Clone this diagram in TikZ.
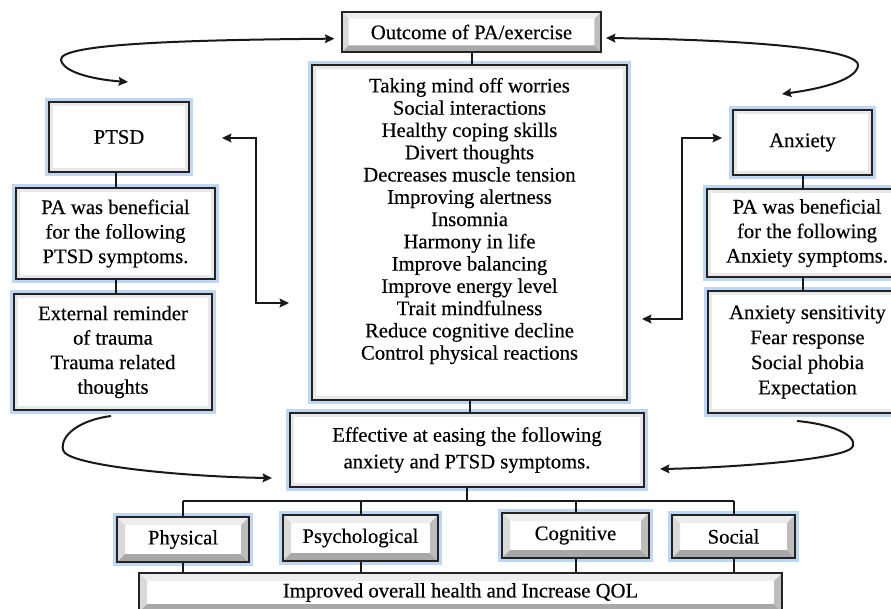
\documentclass[tikz,border=0pt]{standalone}
\usepackage{fontspec}
\setmainfont{Liberation Serif}[FakeBold=0.35]
\usetikzlibrary{arrows.meta,calc}
\definecolor{glowc}{RGB}{190,216,243}
\definecolor{edgec}{RGB}{35,35,35}
\tikzset{
  sz/.style 2 args={minimum width=#1*0.75pt, minimum height=#2*0.75pt},
  base/.style={draw=edgec, line width=1.5pt, fill=white, align=center, inner sep=0pt,
    font=\fontsize{15.5}{18.4}\selectfont, text=black},
  glow/.style={preaction={draw=glowc, line width=5.5pt}},
  plainbox/.style={base, glow, path picture={
      \draw[gray!18, line width=3pt]
        ([xshift=1.5pt,yshift=-1.5pt]path picture bounding box.north west) rectangle
        ([xshift=-1.5pt,yshift=1.5pt]path picture bounding box.south east);}},
  bevel/.style={base, path picture={
      \path (path picture bounding box.north west) coordinate (bNW)
            (path picture bounding box.north east) coordinate (bNE)
            (path picture bounding box.south west) coordinate (bSW)
            (path picture bounding box.south east) coordinate (bSE);
      \fill[gray!14] (bNW) -- (bNE) -- ([xshift=-#1,yshift=-#1]bNE) -- ([xshift=#1,yshift=-#1]bNW) -- cycle;
      \fill[gray!30] (bNW) -- (bSW) -- ([xshift=#1,yshift=#1]bSW) -- ([xshift=#1,yshift=-#1]bNW) -- cycle;
      \fill[gray!68] (bSW) -- (bSE) -- ([xshift=-#1,yshift=#1]bSE) -- ([xshift=#1,yshift=#1]bSW) -- cycle;
      \fill[gray!52] (bNE) -- (bSE) -- ([xshift=-#1,yshift=#1]bSE) -- ([xshift=-#1,yshift=-#1]bNE) -- cycle;}},
  conn/.style={draw=black!90, line width=1.5pt},
  arr/.style={conn, -{Stealth[length=7pt,width=6.5pt,inset=1pt]}},
  biarr/.style={conn, {Stealth[length=7pt,width=6.5pt,inset=1pt]}-{Stealth[length=7pt,width=6.5pt,inset=1pt]}},
}
\begin{document}
\begin{tikzpicture}[x=0.75pt,y=-0.75pt]
\useasboundingbox (0,0) rectangle (891,609);
\clip (0,0) rectangle (891,609);
\fill[white] (0,0) rectangle (891,609);

% top and centre
\node[bevel=5pt, sz={259}{40}] (out) at (471.5,32) {Outcome of PA/exercise};
\node[plainbox, sz={315}{335}] (mid) at (469.5,232.5) {};
\node[align=center, inner sep=0pt, font=\fontsize{15.5}{16.7}\selectfont] (midtxt) at (469.5,221)
 {Taking mind off worries\\Social interactions\\Healthy coping skills\\Divert thoughts\\Decreases muscle tension\\Improving alertness\\Insomnia\\Harmony in life\\Improve balancing\\Improve energy level\\Trait mindfulness\\Reduce cognitive decline\\Control physical reactions};
\node[plainbox, sz={354}{74}, font=\fontsize{15.5}{20}\selectfont] (eff) at (467,450)
 {Effective at easing the following\\anxiety and PTSD symptoms.};

% left column
\node[plainbox, sz={140}{70}] (ptsd) at (119,137) {PTSD};
\node[plainbox, sz={199}{91}] (pben) at (115.5,233.5) {PA was beneficial\\for the following\\PTSD symptoms.};
\node[plainbox, sz={198}{116}] (ext) at (113,352) {External reminder\\of trauma\\Trauma related\\thoughts};

% right column
\node[plainbox, sz={139}{65}] (anx) at (802.5,142.5) {Anxiety};
\node[plainbox, sz={200}{88}] (aben) at (807,233) {PA was beneficial\\for the following\\Anxiety symptoms.};
\node[plainbox, sz={199}{122}, font=\fontsize{15.5}{18.8}\selectfont] (asen) at (807.5,352) {Anxiety sensitivity\\Fear response\\Social phobia\\Expectation};

% bottom row
\node[bevel=6pt, glow, sz={132}{45}] (phys) at (183,539.5) {Physical};
\node[bevel=6pt, glow, sz={155}{46}] (psy) at (360.5,538) {Psychological};
\node[bevel=6pt, glow, sz={147}{45}] (cog) at (575.5,535.5) {Cognitive};
\node[bevel=6pt, glow, sz={123}{43}] (soc) at (733.5,536.5) {Social};
\node[bevel=6pt, sz={643}{39}] (imp) at (460.5,592.5) {Improved overall health and Increase QOL};

% tree connectors
\draw[conn] (out.south) -- (out.south |- mid.north);
\draw[conn] (mid.south) -- (mid.south |- eff.north);
\coordinate (bus) at (467,501);
\draw[conn] (eff.south) -- (eff.south |- bus);
\draw[conn] (phys.north |- bus) -- (soc.north |- bus);
\foreach \n in {phys,psy,cog,soc}{
  \draw[conn] (\n.north |- bus) -- (\n.north);
  \draw[conn] (\n.south) -- (\n.south |- imp.north);
}
\draw[conn] (pben.north |- ptsd.south) -- (pben.north);
\draw[conn] (pben.south) -- (pben.south |- ext.north);
\draw[conn] (anx.south) -- (anx.south |- aben.north);
\draw[conn] (anx.south |- aben.south) -- (anx.south |- asen.north);

% elbow arrows
\coordinate (lA) at (222,138);
\coordinate (lB) at (289,303);
\draw[biarr] (lA) -- ++(34,0) |- (lB);
\coordinate (rA) at (722,138);
\coordinate (rB) at (642,319);
\draw[biarr] (rA) -- ++(-40,0) |- (rB);

% curved arrows
\coordinate (oW) at ([xshift=-5pt,yshift=-5pt]out.west);
\coordinate (oE) at ([xshift=3pt,yshift=-4.5pt]out.east);
\coordinate (cTL) at (128,82);
\coordinate (cTR) at (782,94);
\draw[biarr] (oW) .. controls (180,40) and (58,44) .. (61,60) .. controls (64,74) and (100,80) .. (cTL);
\draw[biarr] (oE) .. controls (760,40) and (862,50) .. (858,66) .. controls (855,82) and (812,90) .. (cTR);
\coordinate (cBL) at (111,416);
\coordinate (eL) at ([xshift=-12.75pt,yshift=-21pt]eff.west);
\draw[arr] (cBL) .. controls (80,420) and (60,435) .. (63,450) .. controls (66,466) and (190,477) .. (eL);
\coordinate (cBR) at (797,421);
\coordinate (eR) at ([xshift=11.25pt,yshift=-14.25pt]eff.east);
\draw[arr] (cBR) .. controls (830,424) and (856,434) .. (853,446) .. controls (850,460) and (720,468) .. (eR);
\end{tikzpicture}
\end{document}
